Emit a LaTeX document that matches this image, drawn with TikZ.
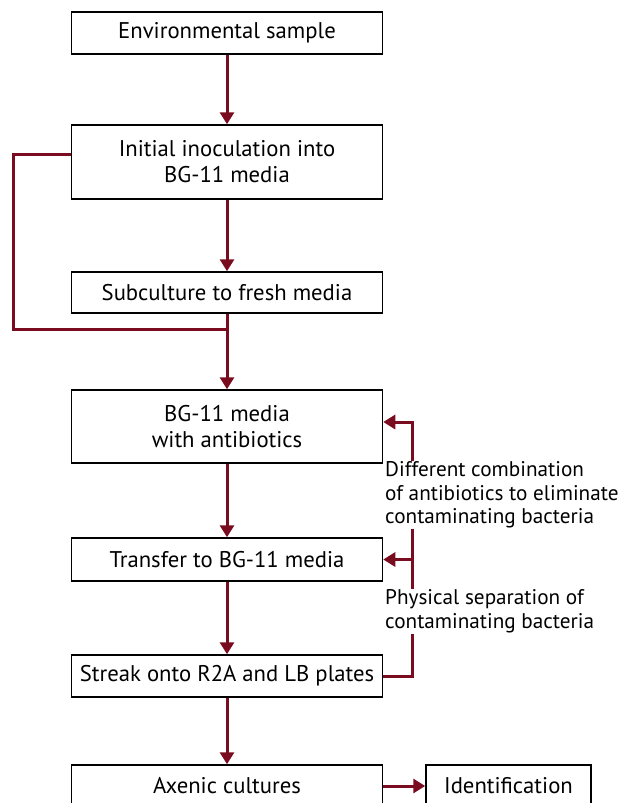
\documentclass[tikz,border=0pt]{standalone}
\usepackage{fontspec}
\setmainfont{PT Sans}
\usepackage{tikz}
\usetikzlibrary{arrows.meta,positioning}
\definecolor{flowred}{RGB}{122,12,32}
\tikzset{>={Triangle[width=14pt,length=12pt]}}

\begin{document}
\begin{tikzpicture}[x=1pt,y=-1pt,
  stepbox/.style={draw,line width=1.5pt,minimum width=311pt,inner sep=0pt,align=center,font=\fontsize{22.7}{26}\selectfont},
  flow/.style={->,draw=flowred,line width=3pt},
  note/.style={fill=white,anchor=west,align=left,inner sep=1pt,font=\fontsize{21.2}{23.5}\selectfont}]
  \useasboundingbox (0,0) rectangle (625,803);

  \newcommand\cx{227}

  \node[stepbox,minimum height=42pt](env) at (\cx, 33){Environmental sample};
  \node[stepbox,minimum height=74pt](init) at (\cx, 162){Initial inoculation into\\BG-11 media};
  \node[stepbox,minimum height=41pt](sub) at (\cx, 292.5){Subculture to fresh media};
  \node[stepbox,minimum height=73pt](anti) at (\cx, 426.5){BG-11 media\\with antibiotics};
  \node[stepbox,minimum height=43pt](trans) at (\cx, 559.5){Transfer to BG-11 media};
  \node[stepbox,minimum height=42pt](streak) at (\cx, 676){Streak onto R2A and LB plates};
  \node[stepbox,minimum height=42pt](axenic) at (\cx, 786){Axenic cultures};
  \node[stepbox,minimum height=42pt,minimum width=165pt](ident) at (508.5, 786){Identification};

  \draw[flow](env)--(init);
  \draw[flow](init)--(sub);
  \draw[flow](sub)--(anti);
  \draw[flow](anti)--(trans);
  \draw[flow](trans)--(streak);
  \draw[flow](streak)--(axenic);
  \draw[flow](axenic)--(ident);

  % loop back round the first subculture
  \coordinate (loop) at (13, 329);
  \coordinate (join) at (\cx, 329);
  \draw[flowred,line width=3pt]([yshift=8pt]init.west) -| (loop) -- (join);

  % side bracket
  \coordinate (side) at (412, 0);
  \draw[flow](streak.east) -| (side |- 0,422) -- ([yshift=4.5pt]anti.east);
  \draw[flow](side |- trans.east) -- (trans.east);

  \node[note](diff) at (384, 495){Different combination\\of antibiotics to eliminate\\contaminating bacteria};
  \node[note](phys) at (384, 611){Physical separation of\\contaminating bacteria};
\end{tikzpicture}
\end{document}
